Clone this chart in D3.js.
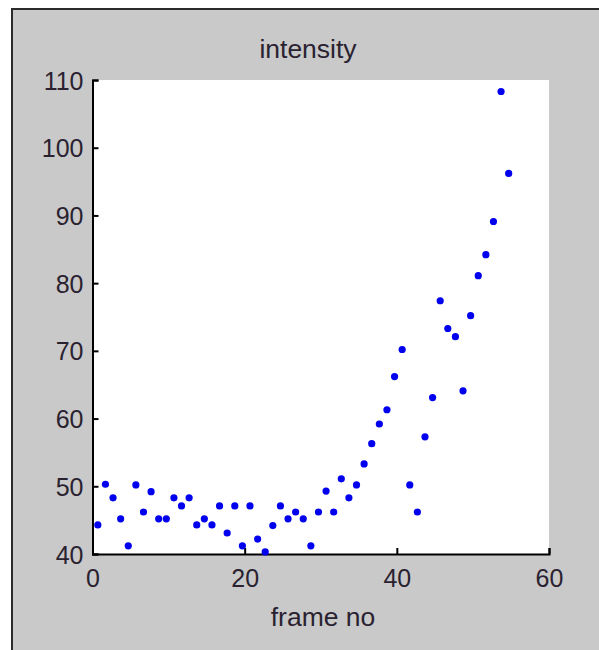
<!DOCTYPE html>
<html>
<head>
<meta charset="utf-8">
<script src="https://cdn.jsdelivr.net/npm/d3@7/dist/d3.min.js"></script>
<style>
  html, body { margin: 0; padding: 0; background: #ffffff; }
  svg { display: block; }
  text { font-family: "Liberation Sans", Arial, sans-serif; fill: #2a2230; }
</style>
</head>
<body>
<svg id="chart" width="599" height="650"></svg>
<script>
// Frame numbers of the samples
const frames = [0.7, 1.7, 2.7, 3.7, 4.7, 5.7, 6.7, 7.7, 8.7, 9.7,
                10.7, 11.7, 12.7, 13.7, 14.7, 15.7, 16.7, 17.7, 18.7, 19.7,
                20.7, 21.7, 22.7, 23.7, 24.7, 25.7, 26.7, 27.7, 28.7, 29.7,
                30.7, 31.7, 32.7, 33.7, 34.7, 35.7, 36.7, 37.7, 38.7, 39.7,
                40.7, 41.7, 42.7, 43.7, 44.7, 45.7, 46.7, 47.7, 48.7, 49.7,
                50.7, 51.7, 52.7, 53.7, 54.7];
// Measured intensity for each frame
const intensity = [44.3, 50.3, 48.3, 45.2, 41.2, 50.2, 46.2, 49.2, 45.2, 45.2,
                   48.3, 47.1, 48.3, 44.3, 45.2, 44.3, 47.1, 43.1, 47.1, 41.2,
                   47.1, 42.2, 40.3, 44.2, 47.1, 45.2, 46.2, 45.2, 41.2, 46.2,
                   49.3, 46.2, 51.1, 48.3, 50.2, 53.3, 56.3, 59.2, 61.3, 66.2,
                   70.2, 50.2, 46.2, 57.3, 63.1, 77.4, 73.3, 72.1, 64.1, 75.2,
                   81.1, 84.2, 89.1, 108.3, 96.2];
const xTicks = [0, 20, 40, 60];
const yTicks = [40, 50, 60, 70, 80, 90, 100, 110];
const titleText = "intensity";
const xLabelText = "frame no";

const svg = d3.select("#chart");

// figure background with dark frame on left/top
svg.append("rect").attr("x", 12).attr("y", 9).attr("width", 600).attr("height", 650)
  .attr("fill", "#c9c9c9").attr("stroke", "#2b2b2b").attr("stroke-width", 2);

const plotLeft = 92.5, plotRight = 549, plotTop = 80, plotBottom = 554;

const x = d3.scaleLinear().domain([0, 60]).range([plotLeft, plotRight]);
const y = d3.scaleLinear().domain([40, 110]).range([plotBottom, plotTop]);

// white plotting area
svg.append("rect").attr("x", plotLeft).attr("y", plotTop)
  .attr("width", plotRight - plotLeft).attr("height", plotBottom - plotTop).attr("fill", "#ffffff");

// axes with inward ticks
const xAxis = d3.axisBottom(x).tickValues(xTicks).tickSize(-6).tickPadding(9).tickSizeOuter(-6);
const yAxis = d3.axisLeft(y).tickValues(yTicks).tickSize(-6).tickPadding(9).tickSizeOuter(-6);

const gx = svg.append("g").attr("transform", `translate(0,${plotBottom})`).call(xAxis);
const gy = svg.append("g").attr("transform", `translate(${plotLeft},0)`).call(yAxis);

[gx, gy].forEach(g => {
  g.select(".domain").attr("stroke", "#000").attr("stroke-width", 2);
  g.selectAll(".tick line").attr("stroke", "#000").attr("stroke-width", 2);
  g.selectAll(".tick text").attr("font-size", 25).attr("fill", "#2a2230")
    .attr("font-family", "'Liberation Sans', Arial, sans-serif");
});
gx.selectAll(".tick text").attr("dy", "0.95em");
gy.selectAll(".tick text").attr("dy", "0.36em");

// data points
svg.append("g").selectAll("circle")
  .data(frames.map((f, i) => [f, intensity[i]]))
  .join("circle")
  .attr("cx", d => x(d[0]))
  .attr("cy", d => y(d[1]))
  .attr("r", 3.6)
  .attr("fill", "#0000ee");

// title and axis label
svg.append("text").attr("x", 308).attr("y", 58).attr("text-anchor", "middle")
  .attr("font-size", 26.5).text(titleText);
svg.append("text").attr("x", 323).attr("y", 626).attr("text-anchor", "middle")
  .attr("font-size", 26.5).text(xLabelText);
</script>
</body>
</html>
